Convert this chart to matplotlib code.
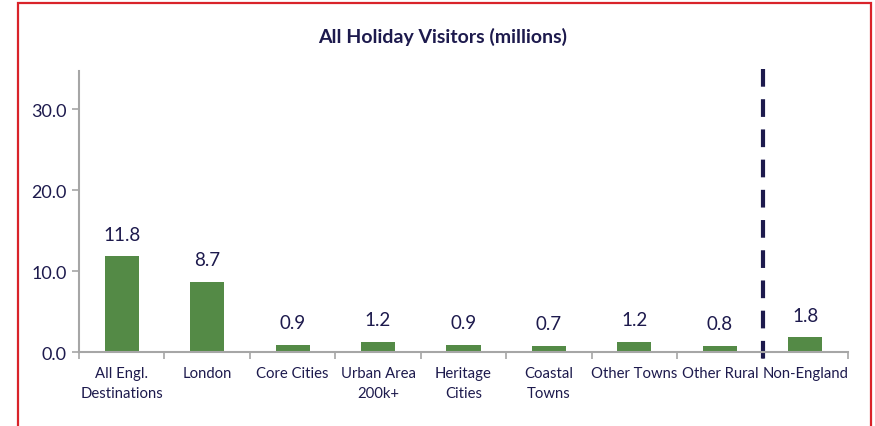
import numpy as np
import matplotlib
matplotlib.use('Agg')
import matplotlib.pyplot as plt
from matplotlib.patches import Rectangle

categories = ['All Engl.\nDestinations', 'London', 'Core Cities', 'Urban Area\n200k+',
              'Heritage\nCities', 'Coastal\nTowns', 'Other Towns', 'Other Rural', 'Non-England']
visitors = [11.8, 8.7, 0.9, 1.2, 0.9, 0.7, 1.2, 0.8, 1.8]
yticks = [0, 10, 20, 30]

navy = '#1d1a4d'
green = '#548a46'
grey = '#a6a6a6'

plt.rcParams['font.family'] = ['Lato', 'DejaVu Sans']

fig = plt.figure(figsize=(8.75, 4.27), dpi=100)
ax = fig.add_axes([79/875, 1-353/427, (848-79)/875, (353-72)/427])

x = np.arange(len(categories))
ax.bar(x, visitors, width=0.4, color=green)
for xi, v in zip(x, visitors):
    ax.annotate('%.1f' % v, (xi, v), xytext=(0, 10), textcoords='offset points',
                ha='center', va='bottom', fontsize=13.5, color=navy)

ax.set_xlim(-0.5, len(categories) - 0.5)
ax.set_ylim(0, 34.7)
ax.set_yticks(yticks)
ax.set_yticklabels(['%.1f' % t for t in yticks], fontsize=13, color=navy)
ax.set_xticks(x)
ax.set_xticklabels(categories, fontsize=10.7, color=navy, linespacing=1.6)
ax.tick_params(axis='x', which='major', length=0, pad=10)
ax.set_xticks(np.arange(-0.5, len(categories)), minor=True)
ax.tick_params(axis='x', which='minor', length=5, color=grey, width=1.2)
ax.tick_params(axis='y', length=5, color=grey, width=1.2, pad=4)

for s in ['top', 'right']:
    ax.spines[s].set_visible(False)
for s in ['left', 'bottom']:
    ax.spines[s].set_color(grey)
    ax.spines[s].set_linewidth(1.5)

# divider between England and Non-England (drawn top-down so dashes start at top)
ax.plot([7.5, 7.5], [35.0, -2.35], color=navy, lw=3, dashes=(4.25, 3.0), clip_on=False)

fig.text(443/875, 1-37/427, 'All Holiday Visitors (millions)', fontsize=14,
         fontweight='bold', color=navy, ha='center', va='center')

# red frame around the chart
fig.patches.append(Rectangle((18/875, -0.05), (871-18)/875, 1.05 - 4/427,
                             transform=fig.transFigure, fill=False,
                             edgecolor='#d9232a', lw=1.6))

fig.savefig('out.png', dpi=100)
